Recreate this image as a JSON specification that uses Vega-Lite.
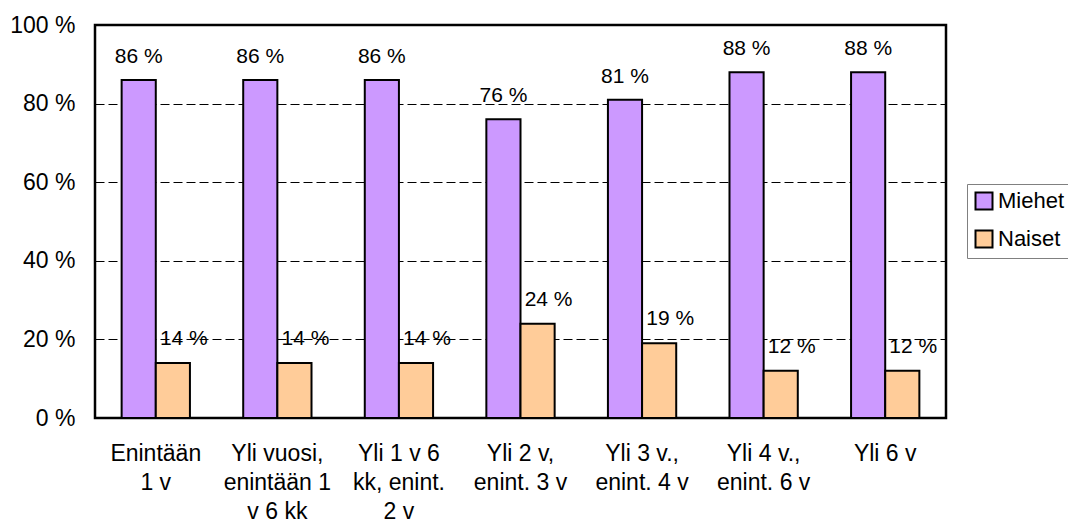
{
  "$schema": "https://vega.github.io/schema/vega-lite/v6.json",
  "autosize": "none",
  "width": 851,
  "height": 393,
  "padding": {"left": 95, "top": 25, "right": 122, "bottom": 106},
  "background": "white",
  "config": {
    "font": "Liberation Sans",
    "view": {"stroke": "black", "strokeWidth": 2.5},
    "axis": {"labelFont": "Liberation Sans", "labelColor": "black", "labelFontSize": 23}
  },
  "data": {
    "values": [
      {"cat": "Enintään|1 v", "series": "Miehet", "v": 86},
      {"cat": "Enintään|1 v", "series": "Naiset", "v": 14},
      {"cat": "Yli vuosi,|enintään 1|v 6 kk", "series": "Miehet", "v": 86},
      {"cat": "Yli vuosi,|enintään 1|v 6 kk", "series": "Naiset", "v": 14},
      {"cat": "Yli 1 v 6|kk, enint.|2 v", "series": "Miehet", "v": 86},
      {"cat": "Yli 1 v 6|kk, enint.|2 v", "series": "Naiset", "v": 14},
      {"cat": "Yli 2 v,|enint. 3 v", "series": "Miehet", "v": 76},
      {"cat": "Yli 2 v,|enint. 3 v", "series": "Naiset", "v": 24},
      {"cat": "Yli 3 v.,|enint. 4 v", "series": "Miehet", "v": 81},
      {"cat": "Yli 3 v.,|enint. 4 v", "series": "Naiset", "v": 19},
      {"cat": "Yli 4 v.,|enint. 6 v", "series": "Miehet", "v": 88},
      {"cat": "Yli 4 v.,|enint. 6 v", "series": "Naiset", "v": 12},
      {"cat": "Yli 6 v", "series": "Miehet", "v": 88},
      {"cat": "Yli 6 v", "series": "Naiset", "v": 12}
    ]
  },
  "transform": [{"calculate": "datum.v + ' %'", "as": "label"}],
  "encoding": {
    "x": {
      "field": "cat", "type": "nominal", "sort": null,
      "scale": {"paddingInner": 0, "paddingOuter": 0},
      "axis": {
        "title": null, "labelAngle": 0, "domain": false, "ticks": false,
        "labelExpr": "split(datum.label, '|')",
        "labelPadding": 35, "labelLineHeight": 29, "labelBaseline": "middle"
      }
    },
    "xOffset": {
      "field": "series", "type": "nominal",
      "scale": {"paddingOuter": 0.78, "paddingInner": 0}
    },
    "y": {
      "field": "v", "type": "quantitative",
      "scale": {"domain": [0, 100], "nice": false},
      "axis": {
        "title": null, "values": [0, 20, 40, 60, 80, 100],
        "labelExpr": "datum.value + ' %'", "domain": false, "ticks": false,
        "labelPadding": 20, "grid": true, "gridColor": "black",
        "gridDash": [9, 4], "gridWidth": 1
      }
    }
  },
  "layer": [
    {
      "mark": {"type": "bar", "stroke": "black", "strokeWidth": 2},
      "encoding": {
        "color": {
          "field": "series", "type": "nominal",
          "scale": {"domain": ["Miehet", "Naiset"], "range": ["#CC99FF", "#FFCC99"]},
          "legend": {
            "title": null, "orient": "none", "legendX": 872, "legendY": 159,
            "symbolType": "square", "symbolSize": 289, "symbolStrokeColor": "black",
            "symbolStrokeWidth": 2, "labelFontSize": 22, "labelFont": "Liberation Sans",
            "labelColor": "black", "strokeColor": "#808080", "padding": 6,
            "rowPadding": 12, "labelOffset": 3, "fillColor": "white"
          }
        }
      }
    },
    {
      "transform": [{"filter": "datum.series == 'Miehet'"}],
      "mark": {"type": "text", "dy": -17, "baseline": "alphabetic", "align": "center", "fontSize": 21, "color": "black"},
      "encoding": {"text": {"field": "label"}}
    },
    {
      "transform": [{"filter": "datum.series == 'Naiset'"}],
      "mark": {"type": "text", "dy": -18, "dx": 11, "baseline": "alphabetic", "align": "center", "fontSize": 21, "color": "black"},
      "encoding": {"text": {"field": "label"}}
    }
  ]
}
